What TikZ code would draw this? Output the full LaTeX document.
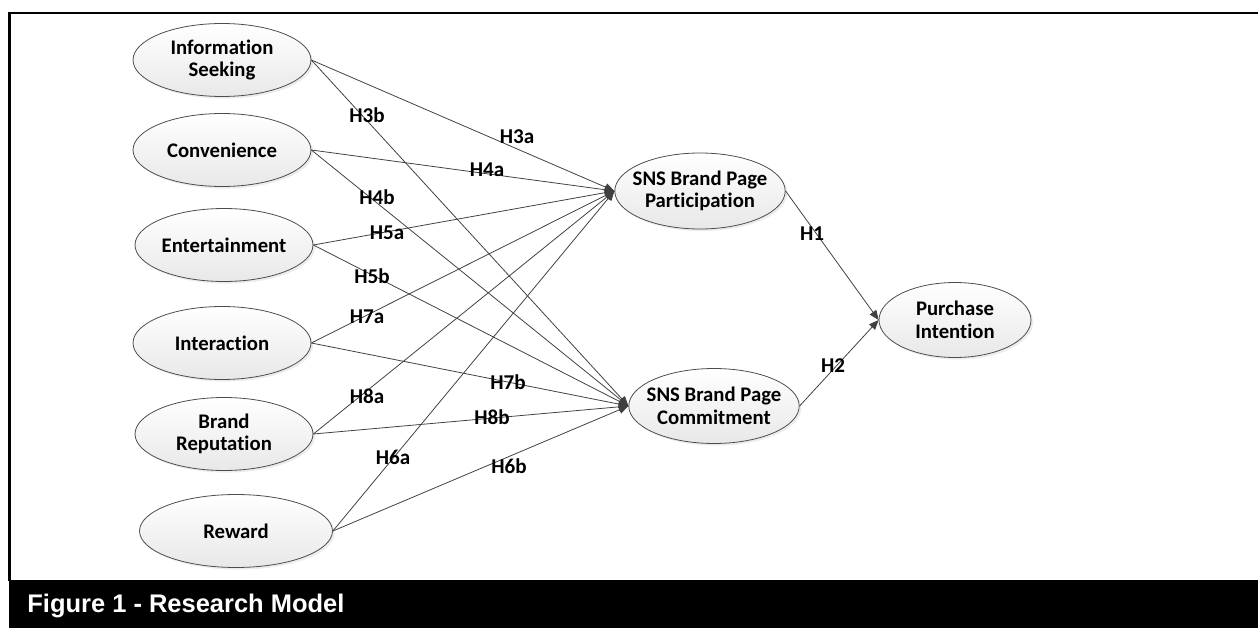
\documentclass[tikz,border=0pt]{standalone}
\usepackage{fontspec}
\setmainfont{Carlito}[Ligatures = NoCommon]
\newfontfamily\capfont{Liberation Sans}
\usetikzlibrary{shapes.geometric, arrows.meta, shadows}

\tikzset{
  construct/.style = {ellipse, draw = black!70, line width = 0.45pt, inner xsep = -4pt, inner ysep = 0pt,
    top color = white, bottom color = black!9, align = center,
    font = \fontsize{11.8}{12.8}\selectfont\bfseries,
    minimum width = 3.56cm, minimum height = 1.46cm,
    drop shadow = {opacity = 0.15, shadow xshift = 1.2pt, shadow yshift = -1.2pt}},
  hyp/.style = {font = \fontsize{12}{13}\selectfont\bfseries, inner sep = 1pt},
  link/.style = {draw = black!75, line width = 0.45pt, -{Triangle[length = 5.5pt, width = 4.5pt]}},
  figcaption/.style = {white, font = \capfont\fontsize{14.5}{16}\selectfont\bfseries, inner sep = 0pt}
}

\begin{document}
\begin{tikzpicture} [x = 0.02cm, y = -0.02cm] 
\useasboundingbox (0, 0) rectangle (1258, 628);
\draw[black, line width = 1.2pt] (1258, 13) -- (9.5, 13) -- (9.5, 581);
\fill[black] (8.5, 580) rectangle (1258, 628);
\node[figcaption, anchor = base west] (cap) at (27, 612){Figure 1 - Research Model};
\node[construct] (info) at (222, 60){Information\\Seeking};
\node[construct] (conv) at (222, 150){Convenience};
\node[construct] (ent) at (224, 245){Entertainment};
\node[construct] (inter) at (222, 343){Interaction};
\node[construct] (brand) at (224, 434){Brand\\Reputation};
\node[construct, minimum width = 3.86cm] (reward) at (236, 531){Reward};
\node[construct, minimum width = 3.08cm, minimum height = 1.52cm] (part) at (700, 191){SNS Brand Page\\Participation};
\node[construct, minimum width = 3.3cm, minimum height = 1.5cm] (comm) at (714, 406){SNS Brand Page\\Commitment};
\node[construct, minimum width = 3.04cm, minimum height = 1.5cm] (purch) at (955, 320){Purchase\\Intention};
\draw[link] (info.east) -- (part.west);
\draw[link] (info.east) -- (comm.west);
\draw[link] (conv.east) -- (part.west);
\draw[link] (conv.east) -- (comm.west);
\draw[link] (ent.east) -- (part.west);
\draw[link] (ent.east) -- (comm.west);
\draw[link] (inter.east) -- (part.west);
\draw[link] (inter.east) -- (comm.west);
\draw[link] (brand.east) -- (part.west);
\draw[link] (brand.east) -- (comm.west);
\draw[link] (reward.east) -- (part.west);
\draw[link] (reward.east) -- (comm.west);
\draw[link] (part.east) -- (purch.west);
\draw[link] (comm.east) -- (purch.west);
\node[hyp] (h3b) at (367, 115){H3b};
\node[hyp] (h3a) at (517, 137){H3a};
\node[hyp] (h4a) at (487, 170){H4a};
\node[hyp] (h4b) at (377, 197){H4b};
\node[hyp] (h5a) at (387, 233){H5a};
\node[hyp] (h5b) at (372, 276){H5b};
\node[hyp] (h7a) at (367, 317){H7a};
\node[hyp] (h7b) at (508, 382){H7b};
\node[hyp] (h8a) at (367, 396){H8a};
\node[hyp] (h8b) at (492, 417){H8b};
\node[hyp] (h6a) at (393, 457){H6a};
\node[hyp] (h6b) at (509, 466){H6b};
\node[hyp] (h1) at (812, 234){H1};
\node[hyp] (h2) at (833, 366){H2};
\end{tikzpicture}
\end{document}
